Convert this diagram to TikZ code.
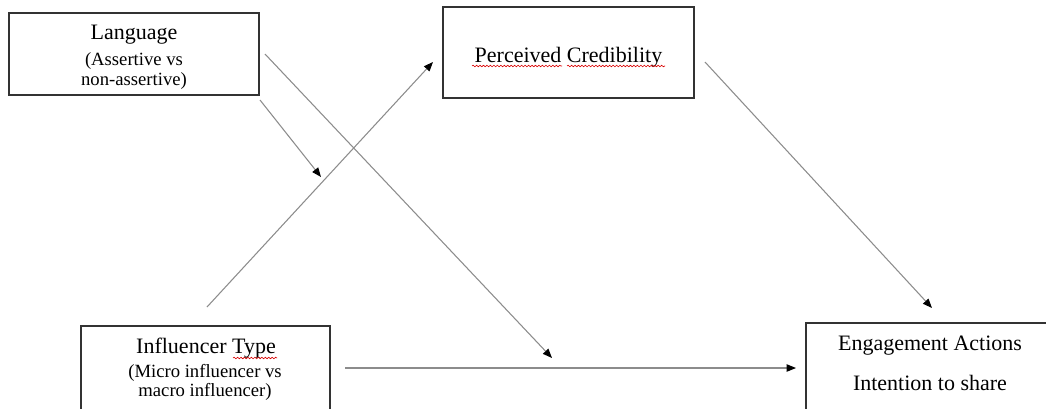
\documentclass[tikz,border=0pt]{standalone}
\usepackage{fontspec}
\setmainfont{Liberation Serif}
\usetikzlibrary{arrows.meta,decorations.pathmorphing}
\begin{document}
\begin{tikzpicture}[x=0.75pt,y=-0.75pt,
  box/.style={draw=black!80,line width=1.1pt},
  main/.style={anchor=base,inner sep=0pt,font=\fontsize{16.5}{19}\selectfont},
  sub/.style={anchor=base,inner sep=0pt,font=\fontsize{14}{15}\selectfont},
  conn/.style={draw=black!45,line width=0.8pt,-{Triangle[length=7pt,width=5.5pt,fill=black,color=black]}},
  plain/.style={draw=black!45,line width=0.8pt},
  squig/.style={draw=red!85!black,line width=0.45pt,decorate,decoration={snake,amplitude=0.6pt,segment length=2.6pt}}]
\useasboundingbox (0,0) rectangle (1046,408);
% boxes
\draw[box] (9,13) rectangle (259,95);
\draw[box] (443,7) rectangle (694,98);
\draw[box] (81,326) rectangle (330,420);
\draw[box] (806,323) rectangle (1060,420);
% texts
\node[main] (lang) at (134,39) {Language};
\node[sub] (lang2) at (134,65) {(Assertive vs};
\node[sub] (lang3) at (134,85) {non-assertive)};
\node[main] (cred) at (568.5,62) {Perceived Credibility};
\node[main] (infl) at (206,353) {Influencer Type};
\node[sub] (infl2) at (205,377) {(Micro influencer vs};
\node[sub] (infl3) at (205,396) {macro influencer)};
\node[main] (eng) at (930,350) {Engagement Actions};
\node[main] (eng2) at (930,390) {Intention to share};
% spell-check squiggles
\draw[squig] (472,66) -- (562,66);
\draw[squig] (567,66) -- (665,66);
\draw[squig] (233,358) -- (277,358);
% connector end points
\coordinate (a1) at (265,54);
\coordinate (a2) at (552,358);
\coordinate (b1) at (260,100);
\coordinate (b2) at (321,177);
\coordinate (c1) at (207,307);
\coordinate (c2) at (433,62);
\coordinate (d1) at (705,62);
\coordinate (d2) at (932,308);
\coordinate (e1) at (345,368);
\coordinate (e2) at (796,368);
% connectors
\draw[conn] (a1) -- (a2);
\draw[conn] (b1) -- (b2);
\draw[conn] (c1) -- (c2);
\draw[conn] (d1) -- (d2);
\draw[conn] (e1) -- (e2);
\end{tikzpicture}
\end{document}
